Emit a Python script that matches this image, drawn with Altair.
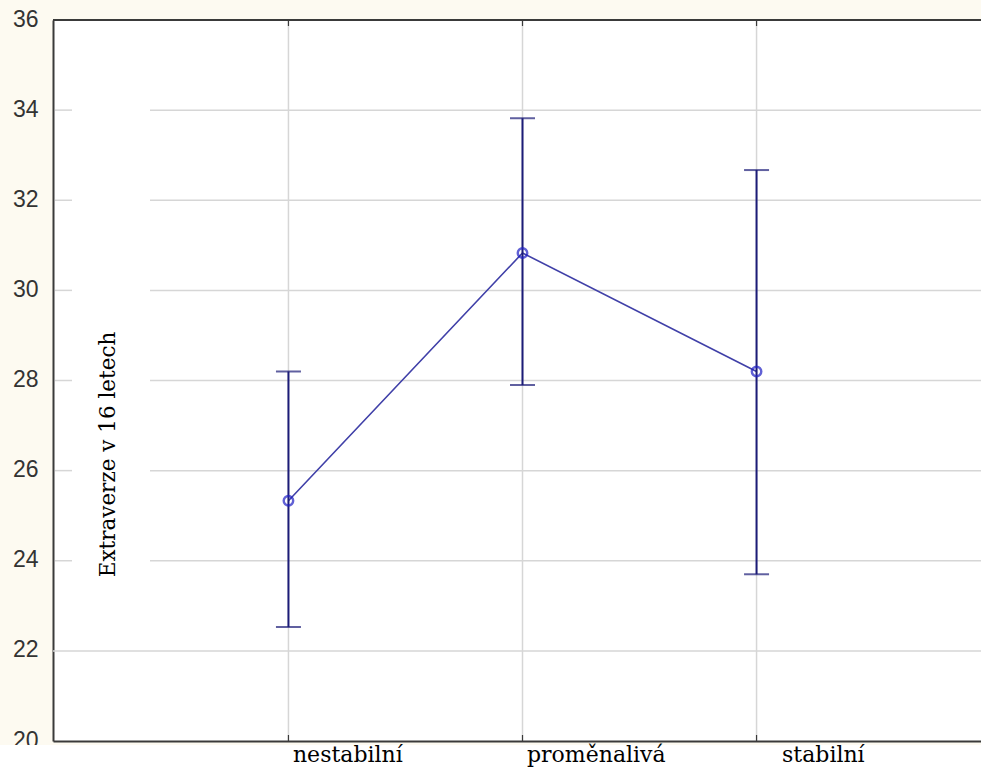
import altair as alt
import pandas as pd

# Group means with their error-bar limits
categories = ["nestabilní", "proměnalivá", "stabilní"]
positions = [1, 2, 3]
means = [25.33, 30.83, 28.2]
upper = [28.2, 33.82, 32.67]
lower = [22.53, 27.9, 23.7]

y_ticks = [20, 22, 24, 26, 28, 30, 32, 34, 36]
grid_full = [22]
grid_partial = [24, 26, 28, 30, 32, 34]

W, H = 928, 721

df = pd.DataFrame({"pos": positions, "group": categories,
                   "mean": means, "hi": upper, "lo": lower})
grid_full_df = pd.DataFrame({"y": grid_full})
grid_part_df = pd.DataFrame({"y": grid_partial})

xs = alt.Scale(domain=[-0.006, 3.959], nice=False, zero=False)
ys = alt.Scale(domain=[20, 36], nice=False, zero=False)

label_expr = " : ".join(
    f"datum.value == {p} ? '{c}'" for p, c in zip(positions, categories)
) + " : ''"

GRID = "#d6d6d6"
FRAME = "#3a3a3a"
NAVY = "#1c1c78"

x_axis = alt.Axis(
    values=positions, labelExpr=label_expr, title=None, grid=False, ticks=False,
    labelFont="DejaVu Serif", labelFontSize=22, labelColor="#000000",
    labelAlign="left", labelBaseline="top", labelPadding=3,
    labelOffset={"condition": {"test": "datum.value == 3", "value": 25}, "value": 4},
    domainColor=FRAME, domainWidth=2, zindex=1,
)
y_axis = alt.Axis(
    values=y_ticks, grid=False, ticks=False,
    labelFont="Liberation Sans", labelFontSize=23, labelColor="#333333",
    labelPadding=15, labelOffset=-1,
    domainColor=FRAME, domainWidth=2,
    title="Extraverze v 16 letech", titleFont="DejaVu Serif", titleFontSize=21.5,
    titleFontWeight="normal", titleColor="#000000", titleAngle=270,
    titleX=55, titleY=434, titleAlign="center", titleBaseline="middle", zindex=0,
)

# Gridlines
vgrid = alt.Chart(df).mark_rule(color=GRID, strokeWidth=1.5).encode(
    x=alt.X("pos:Q", scale=xs, axis=x_axis), y=alt.value(0), y2=alt.value(H))
hgrid_full = alt.Chart(grid_full_df).mark_rule(color=GRID, strokeWidth=1.5).encode(
    y=alt.Y("y:Q", scale=ys, axis=y_axis), x=alt.value(0), x2=alt.value(W))
hgrid_part = alt.Chart(grid_part_df).mark_rule(color=GRID, strokeWidth=1.5).encode(
    y=alt.Y("y:Q", scale=ys), x=alt.value(97), x2=alt.value(W))
hgrid_stub = alt.Chart(grid_part_df).mark_rule(color=GRID, strokeWidth=1.5).encode(
    y=alt.Y("y:Q", scale=ys), x=alt.value(2), x2=alt.value(19))

# Top frame line and small inward ticks
top_frame = alt.Chart(df).mark_rule(color=FRAME, strokeWidth=2).encode(
    y=alt.value(0), x=alt.value(0), x2=alt.value(W + 2))
ticks_bottom = alt.Chart(df).mark_rule(color=FRAME, strokeWidth=1.2).encode(
    x=alt.X("pos:Q", scale=xs), y=alt.value(H - 6), y2=alt.value(H))
ticks_top = alt.Chart(df).mark_rule(color=FRAME, strokeWidth=1.2).encode(
    x=alt.X("pos:Q", scale=xs), y=alt.value(0), y2=alt.value(6))

# Error bars with caps
bars = alt.Chart(df).mark_rule(color=NAVY, strokeWidth=2).encode(
    x=alt.X("pos:Q", scale=xs), y=alt.Y("lo:Q", scale=ys), y2="hi:Q")
cap_hi = alt.Chart(df).mark_tick(color=NAVY, thickness=2, size=25, orient="horizontal").encode(
    x=alt.X("pos:Q", scale=xs), y=alt.Y("hi:Q", scale=ys))
cap_lo = alt.Chart(df).mark_tick(color=NAVY, thickness=2, size=25, orient="horizontal").encode(
    x=alt.X("pos:Q", scale=xs), y=alt.Y("lo:Q", scale=ys))

# Line through the means and the mean markers
mean_line = alt.Chart(df).mark_line(color="#4040a8", strokeWidth=1.6).encode(
    x=alt.X("pos:Q", scale=xs), y=alt.Y("mean:Q", scale=ys))
mean_pts = alt.Chart(df).mark_point(
    shape="circle", filled=False, color="#1f1fc4", size=90, strokeWidth=2.4
).encode(x=alt.X("pos:Q", scale=xs), y=alt.Y("mean:Q", scale=ys))

# White strip below the plot frame
bottom_strip = alt.Chart(df).mark_rect(color="white").encode(
    x=alt.value(-60), x2=alt.value(W + 10), y=alt.value(H + 4), y2=alt.value(H + 60))

chart = alt.layer(
    vgrid, hgrid_full, hgrid_part, hgrid_stub, bottom_strip,
    top_frame, ticks_bottom, ticks_top,
    mean_line, bars, cap_hi, cap_lo, mean_pts,
).properties(
    width=W, height=H,
    padding={"left": 53, "top": 20, "right": 0, "bottom": 28},
    autosize=alt.AutoSizeParams(type="none"),
    background="#fdfaf1",
).configure_view(fill="white", stroke=None)

chart.save("out.html", embed_options={"renderer": "svg", "actions": False})
